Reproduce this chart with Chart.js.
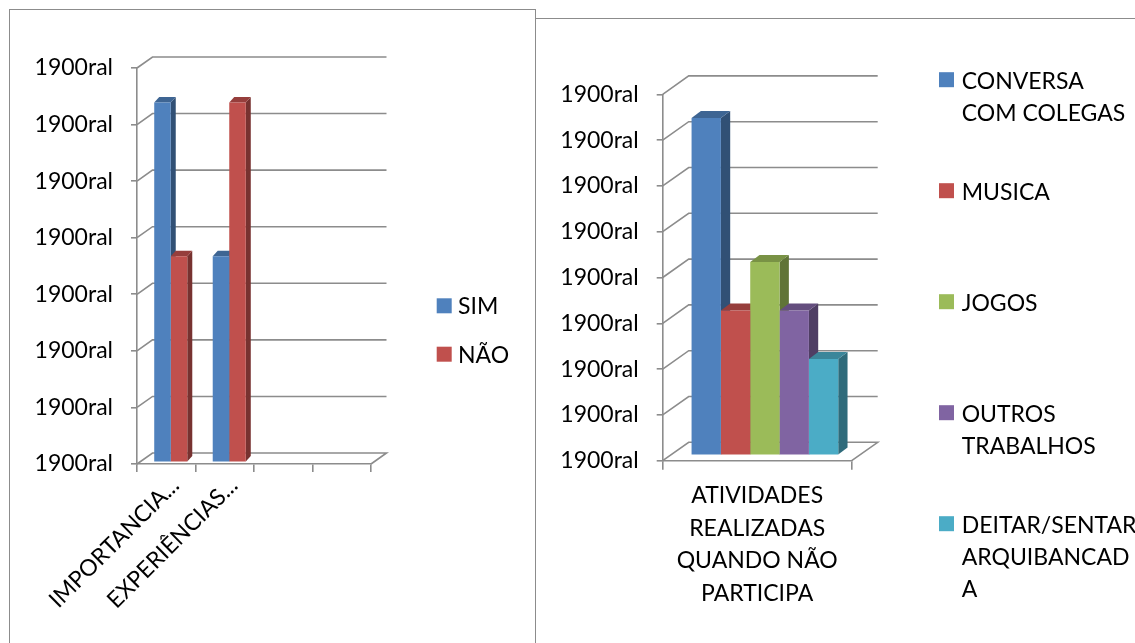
<!DOCTYPE html>
<html>
<head>
<meta charset="utf-8">
<script src="https://cdn.jsdelivr.net/npm/chart.js@4.4.1/dist/chart.umd.min.js"></script>
<style>
  html, body { margin: 0; padding: 0; background: #fff; }
  body { width: 1135px; height: 643px; position: relative; overflow: hidden; }
  .frame { position: absolute; box-sizing: border-box; border: 1.5px solid #8c8c8c; }
  #frameA { left: 9px; top: 9px; width: 527px; height: 700px; }
  #frameB { left: 535px; top: 18px; width: 640px; height: 700px; }
  canvas { position: absolute; top: 0; }
  #chartA { left: 0; }
  #chartB { left: 535px; }
</style>
</head>
<body>
<div class="frame" id="frameA"></div>
<div class="frame" id="frameB"></div>
<canvas id="chartA" width="535" height="643"></canvas>
<canvas id="chartB" width="600" height="643"></canvas>
<script>
// ---- left chart: SIM / NÃO per question ----
const questionLabels = ['IMPORTANCIA...', 'EXPERIÊNCIAS...', '', ''];
const simValues = [63.6, 36.4, null, null];
const naoValues = [36.4, 63.6, null, null];
const questionTicks = ['1900ral', '1900ral', '1900ral', '1900ral', '1900ral', '1900ral', '1900ral', '1900ral'];
const questionSeries = ['SIM', 'NÃO'];

// ---- right chart: activities when not taking part ----
const activityLabel = [['ATIVIDADES', 'REALIZADAS', 'QUANDO NÃO', 'PARTICIPA']];
const conversaValues = [36.8];
const musicaValues = [15.8];
const jogosValues = [21.1];
const outrosValues = [15.8];
const deitarValues = [10.5];
const activityTicks = ['1900ral', '1900ral', '1900ral', '1900ral', '1900ral', '1900ral', '1900ral', '1900ral', '1900ral'];
const activitySeries = [
  ['CONVERSA', 'COM COLEGAS'],
  ['MUSICA'],
  ['JOGOS'],
  ['OUTROS', 'TRABALHOS'],
  ['DEITAR/SENTAR', 'ARQUIBANCAD', 'A']
];

const BLUE = '#4F81BD', RED = '#C0504D', GREEN = '#9BBB59', PURPLE = '#8064A2', CYAN = '#4BACC6';
const LINE = '#8c8c8c';
const FONT = 'Lato, "Open Sans", sans-serif';

function shade(hex, f) {
  const n = parseInt(hex.slice(1), 16);
  const r = Math.round(((n >> 16) & 255) * f);
  const g = Math.round(((n >> 8) & 255) * f);
  const b = Math.round((n & 255) * f);
  return `rgb(${r},${g},${b})`;
}

// Back wall, floor and the depth faces of the columns.
const columns3d = {
  id: 'columns3d',
  beforeDatasetsDraw(chart, args, o) {
    const { ctx, chartArea: a, scales: { y } } = chart;
    ctx.save();
    ctx.strokeStyle = LINE;
    ctx.lineWidth = 1.6;
    y.ticks.forEach((t) => {
      const py = y.getPixelForValue(t.value);
      ctx.beginPath();
      ctx.moveTo(a.left, py);
      ctx.lineTo(a.left + o.wallDx, py - o.wallDy);
      ctx.lineTo(a.right + o.wallDx, py - o.wallDy);
      if (t.value === y.min) ctx.lineTo(a.right, py);
      ctx.stroke();
    });
    ctx.restore();

    ctx.save();
    ctx.translate(o.barDx, o.barDy);
    chart.data.datasets.forEach((ds, di) => {
      const meta = chart.getDatasetMeta(di);
      meta.data.forEach((el, i) => {
        if (ds.data[i] == null) return;
        const { x, y: top, base, width } = el.getProps(['x', 'y', 'base', 'width'], true);
        const l = x - width / 2, r = x + width / 2;
        ctx.fillStyle = shade(ds.backgroundColor, 0.62);
        ctx.beginPath();
        ctx.moveTo(r, top);
        ctx.lineTo(r + o.faceDx, top - o.faceDy);
        ctx.lineTo(r + o.faceDx, base - o.faceDy);
        ctx.lineTo(r, base);
        ctx.closePath();
        ctx.fill();
        ctx.fillStyle = shade(ds.backgroundColor, 0.78);
        ctx.beginPath();
        ctx.moveTo(l, top);
        ctx.lineTo(r, top);
        ctx.lineTo(r + o.faceDx, top - o.faceDy);
        ctx.lineTo(l + o.faceDx, top - o.faceDy);
        ctx.closePath();
        ctx.fill();
      });
    });
    // the front faces are then drawn by the bar controller in this shifted frame
  },
  afterDatasetsDraw(chart) {
    chart.ctx.restore();
  }
};

// Legend to the right of the plot, one entry per series, lines stacked.
const sideLegend = {
  id: 'sideLegend',
  afterDraw(chart, args, o) {
    const { ctx } = chart;
    ctx.save();
    ctx.font = `${o.size}px ${FONT}`;
    ctx.textBaseline = 'alphabetic';
    ctx.textAlign = 'left';
    chart.data.datasets.forEach((ds, i) => {
      const baseY = o.top + i * o.step;
      ctx.fillStyle = ds.backgroundColor;
      ctx.fillRect(o.boxX, baseY - o.boxRise, o.box, o.box);
      ctx.fillStyle = '#000';
      o.lines[i].forEach((line, j) => ctx.fillText(line, o.textX, baseY + j * o.lineH));
    });
    ctx.restore();
  }
};

function axisY(max, step, labels, width) {
  return {
    min: 0, max: max,
    grid: { display: true, drawOnChartArea: false, drawTicks: true, tickLength: 6, color: LINE, lineWidth: 1.6 },
    border: { display: true, color: LINE, width: 1.6 },
    ticks: {
      stepSize: step, padding: 18, color: '#000',
      font: { family: FONT, size: 23 },
      callback: (v, i) => labels[i]
    },
    afterFit: (s) => { s.width = width; }
  };
}

Chart.defaults.font.family = FONT;

new Chart(document.getElementById('chartA'), {
  type: 'bar',
  data: {
    labels: questionLabels,
    datasets: [
      { label: questionSeries[0], data: simValues, backgroundColor: BLUE, borderWidth: 0, clip: false },
      { label: questionSeries[1], data: naoValues, backgroundColor: RED, borderWidth: 0, clip: false }
    ]
  },
  options: {
    responsive: false, animation: false, devicePixelRatio: 1,
    layout: { padding: { left: 0, top: 68, right: 164, bottom: 0 } },
    categoryPercentage: 0.565, barPercentage: 1,
    plugins: {
      legend: { display: false }, tooltip: { enabled: false },
      columns3d: { wallDx: 15.5, wallDy: 11, barDx: 4.5, barDy: -1.8, faceDx: 5, faceDy: 5.5 },
      sideLegend: { size: 23, top: 314.3, step: 48.4, boxX: 436.7, box: 15, boxRise: 16, textX: 458, lineH: 32, lines: questionSeries.map(s => [s]) }
    },
    scales: {
      x: {
        grid: { display: true, drawOnChartArea: false, drawTicks: true, tickLength: 8, color: LINE, lineWidth: 1.6 },
        border: { display: true, color: LINE, width: 1.6 },
        ticks: { minRotation: 45, maxRotation: 45, autoSkip: false, padding: 0, labelOffset: 9, color: '#000', font: { family: FONT, size: 23 } },
        afterFit: (s) => { s.height = 643 - 464; }
      },
      y: axisY(70, 10, questionTicks, 137)
    }
  },
  plugins: [columns3d, sideLegend]
});

new Chart(document.getElementById('chartB'), {
  type: 'bar',
  data: {
    labels: activityLabel,
    datasets: [
      { label: activitySeries[0].join(' '), data: conversaValues, backgroundColor: BLUE, borderWidth: 0, clip: false },
      { label: activitySeries[1].join(' '), data: musicaValues, backgroundColor: RED, borderWidth: 0, clip: false },
      { label: activitySeries[2].join(' '), data: jogosValues, backgroundColor: GREEN, borderWidth: 0, clip: false },
      { label: activitySeries[3].join(' '), data: outrosValues, backgroundColor: PURPLE, borderWidth: 0, clip: false },
      { label: activitySeries[4].join(' '), data: deitarValues, backgroundColor: CYAN, borderWidth: 0, clip: false }
    ]
  },
  options: {
    responsive: false, animation: false, devicePixelRatio: 1,
    layout: { padding: { left: 0, top: 94.3, right: 283.3, bottom: 0 } },
    categoryPercentage: 0.776, barPercentage: 1,
    plugins: {
      legend: { display: false }, tooltip: { enabled: false },
      columns3d: { wallDx: 26, wallDy: 18.4, barDx: 7.7, barDy: -5.5, faceDx: 9.3, faceDy: 7 },
      sideLegend: { size: 23, top: 88.7, step: 111, boxX: 404, box: 15, boxRise: 16.5, textX: 426.7, lineH: 32, lines: activitySeries }
    },
    scales: {
      x: {
        grid: { display: true, drawOnChartArea: false, drawTicks: true, tickLength: 9, color: LINE, lineWidth: 1.6 },
        border: { display: true, color: LINE, width: 1.6 },
        ticks: { padding: 10, color: '#000', font: { family: FONT, size: 23, lineHeight: 1.413 } },
        afterFit: (s) => { s.height = 643 - 460.7; }
      },
      y: axisY(40, 5, activityTicks, 127.7)
    }
  },
  plugins: [columns3d, sideLegend]
});
</script>
</body>
</html>
